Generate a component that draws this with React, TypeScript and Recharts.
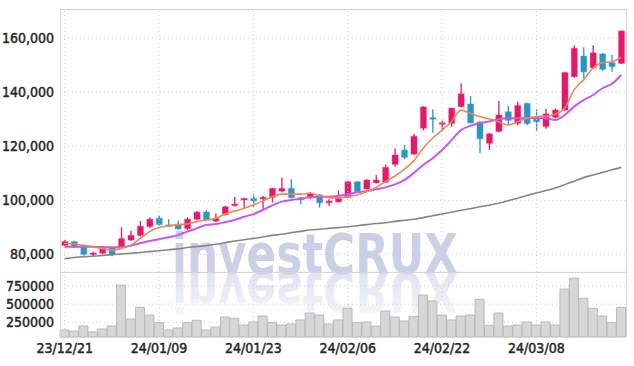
import React from 'react';
import {
  ComposedChart, BarChart, Bar, Line, XAxis, YAxis, CartesianGrid, ReferenceLine,
} from 'recharts';

const dates = [
  '23/12/21', '23/12/22', '23/12/26', '23/12/27', '23/12/28', '24/01/02', '24/01/03', '24/01/04', '24/01/05', '24/01/08',
  '24/01/09', '24/01/10', '24/01/11', '24/01/12', '24/01/15', '24/01/16', '24/01/17', '24/01/18', '24/01/19', '24/01/22',
  '24/01/23', '24/01/24', '24/01/25', '24/01/26', '24/01/29', '24/01/30', '24/01/31', '24/02/01', '24/02/02', '24/02/05',
  '24/02/06', '24/02/07', '24/02/08', '24/02/13', '24/02/14', '24/02/15', '24/02/16', '24/02/19', '24/02/20', '24/02/21',
  '24/02/22', '24/02/23', '24/02/26', '24/02/27', '24/02/28', '24/02/29', '24/03/04', '24/03/05', '24/03/06', '24/03/07',
  '24/03/08', '24/03/11', '24/03/12', '24/03/13', '24/03/14', '24/03/15', '24/03/18', '24/03/19', '24/03/20', '24/03/21',
];

const opens = [
  83300, 84700, 83200, 80200, 80400, 82400, 82600, 85300, 87000, 90300,
  93400, 90900, 91200, 89500, 93000, 95700, 92300, 94700, 98300, 100100,
  100700, 100900, 101100, 103400, 104400, 101000, 101100, 102000, 99500, 99400,
  101100, 106900, 104200, 106500, 106700, 113300, 118600, 117100, 126700, 130600,
  128300, 128500, 134700, 135700, 129000, 121100, 125500, 132800, 128500, 135900,
  130300, 127300, 130700, 133400, 145800, 153400, 149100, 154200, 151000, 150700,
];
const highs = [
  85300, 84900, 83500, 81000, 83000, 82700, 90000, 88700, 92400, 93600,
  94300, 93000, 92400, 93700, 96000, 96400, 95200, 98000, 101200, 100800,
  102300, 101600, 104600, 108400, 107800, 101300, 103000, 102300, 100400, 103600,
  107000, 107000, 107800, 109400, 113300, 119300, 120500, 124600, 134800, 133700,
  129500, 134300, 143300, 138600, 129300, 125000, 136800, 134900, 136500, 136100,
  133700, 133800, 134000, 147500, 157400, 156700, 157400, 154600, 153800, 162900,
];
const lows = [
  83100, 82500, 79500, 79100, 80000, 79300, 82300, 84900, 86600, 89700,
  90700, 90100, 89100, 89000, 92600, 92500, 92000, 94400, 97700, 97000,
  97600, 96500, 99200, 103000, 100800, 98500, 100400, 97300, 97900, 99200,
  101000, 103000, 104000, 106200, 106400, 112400, 115300, 116900, 125900, 125000,
  125800, 127300, 134500, 128500, 117400, 118600, 125200, 127900, 127800, 127800,
  125800, 126500, 130400, 133200, 145400, 145200, 148600, 148000, 147600, 150500,
];
const closes = [
  84700, 82600, 80000, 80500, 82200, 79800, 85800, 87000, 90400, 93000,
  91000, 90700, 89400, 93000, 95600, 92700, 93300, 97600, 98600, 100700,
  99800, 101100, 104400, 104400, 101000, 100200, 102600, 99100, 99700, 100700,
  106900, 103200, 107500, 107500, 112200, 116800, 115900, 123700, 134600, 130300,
  128700, 134100, 139400, 128700, 122800, 124600, 131600, 129600, 135100, 128400,
  129100, 132000, 133400, 147300, 156300, 147600, 154600, 148500, 149500, 162700,
];

const ma5 = [
  84100, 83800, 83300, 82800, 82100, 81600, 82200, 83400, 85900, 88400,
  89900, 90600, 90900, 91200, 92100, 92700, 93300, 94900, 96000, 97000,
  98300, 99700, 101300, 102300, 102300, 102300, 102600, 101700, 101000, 100900,
  101400, 102000, 103200, 104800, 106900, 109000, 111500, 114600, 119300, 123000,
  126000, 129100, 133400, 132200, 131000, 130100, 129100, 127900, 129100, 130400,
  131000, 131200, 131900, 134100, 140900, 144600, 148900, 151000, 151300, 153000,
];
const ma20 = [
  82800, 82800, 82800, 82800, 82700, 82600, 82600, 83200, 84100, 84900,
  85600, 86300, 87100, 88400, 89600, 90900, 91200, 91900, 92700, 93900,
  94900, 96400, 98100, 99500, 100100, 100600, 101100, 101300, 101300, 101600,
  102300, 103000, 103400, 104100, 104800, 105900, 107500, 110100, 113100, 115600,
  118600, 122300, 126000, 127600, 128500, 129200, 130000, 130400, 130400, 130400,
  130500, 130400, 129700, 131600, 134700, 137100, 139000, 141500, 143100, 146400,
];
const ma60 = [
  78400, 78800, 79100, 79300, 79600, 79900, 80100, 80400, 80700, 81000,
  81300, 81700, 82000, 82500, 82900, 83200, 83700, 84300, 84900, 85400,
  85900, 86400, 87000, 87400, 88000, 88500, 89000, 89300, 89600, 89900,
  90200, 90600, 91000, 91400, 91700, 92200, 92600, 93000, 93600, 94300,
  94900, 95600, 96300, 96900, 97600, 98200, 98900, 99800, 100800, 101800,
  102700, 103600, 104600, 105800, 107100, 108400, 109400, 110300, 111300, 112200,
];
const volumes = [
  144000, 130000, 199000, 117000, 158000, 199000, 762000, 295000, 456000, 350000,
  245000, 144000, 172000, 245000, 277000, 144000, 185000, 323000, 305000, 213000,
  254000, 336000, 245000, 213000, 227000, 282000, 378000, 350000, 227000, 282000,
  442000, 245000, 254000, 199000, 405000, 323000, 268000, 332000, 625000, 543000,
  350000, 282000, 336000, 350000, 566000, 209000, 378000, 199000, 213000, 254000,
  213000, 254000, 213000, 707000, 858000, 580000, 442000, 336000, 245000, 456000,
];

const priceTicks = [80000, 100000, 120000, 140000, 160000];
const volumeTicks = [250000, 500000, 750000];
const gridDates = [dates[0], dates[10], dates[20], dates[30], dates[40], dates[50]];

const data = dates.map((date, i) => ({
  date,
  open: opens[i],
  high: highs[i],
  low: lows[i],
  close: closes[i],
  ma5: ma5[i],
  ma20: ma20[i],
  ma60: ma60[i],
  volume: volumes[i],
}));

const UP = '#e6186c';
const DOWN = '#2b95c6';
const FONT = "'Liberation Sans Narrow', 'DejaVu Sans Condensed', sans-serif";
// regular narrow face, thickened a little with a thin stroke
const tickStyle = { fill: '#262626', stroke: '#262626', strokeWidth: 0.45, fontSize: 14, fontFamily: FONT };

const Candle = (props: any) => {
  const { x, y, width, height, payload } = props;
  const { open, close, high, low } = payload;
  const color = close >= open ? UP : DOWN;
  const halo = close >= open ? 'rgba(230,24,108,0.25)' : 'rgba(43,149,198,0.25)';
  const k = height / (high - low || 1);
  const cx = x + width / 2;
  const top = y + (high - Math.max(open, close)) * k;
  const bodyH = Math.max(1.5, Math.abs(close - open) * k);
  return (
    <g>
      <line x1={cx} x2={cx} y1={y} y2={y + height} stroke={color} strokeWidth={1.3} />
      <rect x={cx - 3} y={top} width={6} height={bodyH} fill={color} stroke={halo} strokeWidth={1.5} />
    </g>
  );
};

export default function App() {
  return (
    <div style={{ position: 'absolute', left: 0, top: 0, width: 634, height: 366, background: '#fff' }}>
      <svg width={634} height={366} style={{ position: 'absolute', left: 0, top: 0 }}>
        <defs>
          <linearGradient id="refl" x1="0" y1="0" x2="0" y2="1">
            <stop offset="0%" stopColor="#cdd1e8" stopOpacity={0.1} />
            <stop offset="100%" stopColor="#cdd1e8" stopOpacity={0.75} />
          </linearGradient>
        </defs>
        <text x={172} y={273} fontSize={56} fontWeight={900} fontFamily="'DejaVu Sans', sans-serif"
          fill="#cbd0e7" textLength={286} lengthAdjust="spacingAndGlyphs">investCRUX</text>
        <g transform="translate(0,546) scale(1,-1)">
          <text x={172} y={273} fontSize={56} fontWeight={900} fontFamily="'DejaVu Sans', sans-serif"
            fill="url(#refl)" textLength={286} lengthAdjust="spacingAndGlyphs">investCRUX</text>
        </g>
      </svg>

      <div style={{ position: 'absolute', left: 0, top: 0 }}>
        <ComposedChart width={634} height={272} data={data} margin={{ top: 10, right: 8, left: 8, bottom: 0 }}>
          <CartesianGrid vertical={false} stroke="#c9cbdb" strokeDasharray="1 3" />
          {gridDates.map((d) => (
            <ReferenceLine key={d} x={d} stroke="#c9cbdb" strokeDasharray="1 3" />
          ))}
          <XAxis dataKey="date" hide />
          <YAxis domain={[73450, 170480]} ticks={priceTicks} interval={0} width={52} axisLine={false} tickLine={false}
            tickSize={4} tick={tickStyle} tickFormatter={(v) => v.toLocaleString('en-US')} />
          <Line dataKey="ma60" type="monotone" stroke="#858585" strokeWidth={1.6} dot={false} isAnimationActive={false} />
          <Line dataKey="ma20" type="monotone" stroke="#c956ee" strokeWidth={2} dot={false} isAnimationActive={false} />
          <Line dataKey="ma5" type="monotone" stroke="#f0874f" strokeWidth={1.6} dot={false} isAnimationActive={false} />
          <Bar dataKey={(d: any) => [d.low, d.high]} shape={Candle} isAnimationActive={false} />
        </ComposedChart>
      </div>

      <div style={{ position: 'absolute', left: 0, top: 272 }}>
        <BarChart width={634} height={94} data={data} barCategoryGap={0} margin={{ top: 0, right: 8, left: 8, bottom: 0 }}>
          <CartesianGrid vertical={false} stroke="#c9cbdb" strokeDasharray="1 3" />
          {gridDates.map((d) => (
            <ReferenceLine key={d} x={d} stroke="#c9cbdb" strokeDasharray="1 3" />
          ))}
          <XAxis dataKey="date" interval={9} height={29} axisLine={false} tickLine={false} tickSize={4}
            tick={tickStyle} />
          <YAxis domain={[47500, 942800]} ticks={volumeTicks} interval={0} width={52} axisLine={false} tickLine={false}
            tickSize={4} tick={tickStyle} />
          <Bar dataKey="volume" fill="#d7d7d7" stroke="#b9b9b9" strokeWidth={1} isAnimationActive={false} />
        </BarChart>
      </div>

      <div style={{ position: 'absolute', left: 60, top: 9, width: 565, height: 262, border: '1px solid #d6d6d6', pointerEvents: 'none' }} />
      <div style={{ position: 'absolute', left: 60, top: 272, width: 565, height: 65, borderLeft: '1px solid #d6d6d6', borderRight: '1px solid #d6d6d6', pointerEvents: 'none' }} />
    </div>
  );
}
